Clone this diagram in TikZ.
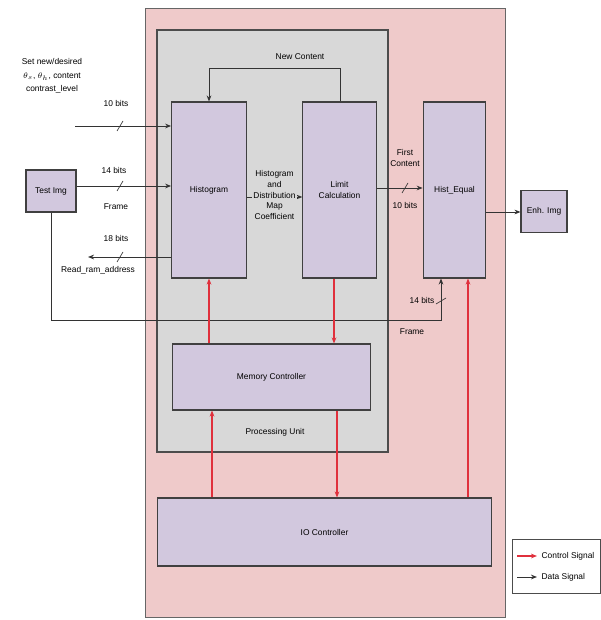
\documentclass[tikz,border=0pt]{standalone}
\usepackage{fontspec}
\setmainfont{Liberation Sans}
\usetikzlibrary{arrows.meta}
\definecolor{outerpink}{HTML}{EFCACA}
\definecolor{innergray}{HTML}{D8D8D8}
\definecolor{lav}{HTML}{D2C8DE}
\definecolor{ctrlred}{HTML}{E0303C}
\tikzset{
  blk/.style={draw=black!75, fill=lav, line width=0.8pt, inner sep=0pt},
  lbl/.style={font=\fontsize{6.3}{8}\selectfont, align=center, inner sep=1pt},
  data/.style={draw=black!80, line width=0.7pt, -{Stealth[length=4.5pt,width=3.5pt]}},
  ctrl/.style={draw=ctrlred, line width=0.8pt, -{Stealth[length=4.5pt,width=3.5pt]}},
  tick/.style={draw=black!80, line width=0.5pt}
}
\begin{document}
\begin{tikzpicture}[x=0.75pt,y=-0.75pt]
\useasboundingbox (0,0) rectangle (600,620);
\fill[white] (0,0) rectangle (600,620);
% containers
\draw[fill=outerpink, draw=black!60, line width=0.7pt] (145,8) rectangle (505,617);
\draw[fill=innergray, draw=black!70, line width=0.8pt] (157,30) rectangle (388,452);
\node[lbl] (pu) at (275,432) {Processing Unit};
% blocks
\node[blk, minimum width=56pt, minimum height=132pt] (hist) at (209,190) {};
\node[lbl] at (hist.center) {Histogram};
\node[blk, minimum width=55pt, minimum height=132pt] (lim) at (339.5,190) {};
\node[lbl] at (lim.center) {Limit\\Calculation};
\node[blk, minimum width=47pt, minimum height=132pt] (heq) at (454.5,190) {};
\node[lbl] at (heq.center) {Hist\_Equal};
\node[blk, minimum width=149pt, minimum height=49.5pt] (mem) at (271.5,377) {};
\node[lbl] at (mem.center) {Memory Controller};
\node[blk, minimum width=251pt, minimum height=51pt] (io) at (324.5,532) {};
\node[lbl] at (io.center) {IO Controller};
\node[blk, minimum width=37.5pt, minimum height=31.5pt] (tin) at (51,191) {};
\node[lbl] at (tin.center) {Test Img};
\node[blk, minimum width=34.5pt, minimum height=32pt] (tout) at (544,211.5) {};
\node[lbl] at (tout.center) {Enh. Img};
% top-left input
\coordinate (cin) at (75,126);
\node[lbl, font=\fontsize{6.3}{10}\selectfont] (settxt) at (52,76) {Set new/desired\\$\theta_s$, $\theta_h$, content\\contrast\_level};
\draw[data] (cin) -- (hist.west |- cin);
\draw[tick] (117,131) -- (123,121);
\node[lbl] at (116,103) {10 bits};
% test img -> histogram
\draw[data] (tin.east |- 0,186) -- (hist.west |- 0,186);
\draw[tick] (117,191) -- (123,181);
\node[lbl] at (114,170) {14 bits};
\node[lbl] at (116,207) {Frame};
% histogram -> read address
\coordinate (raddr) at (88,257);
\draw[data] (hist.west |- raddr) -- (raddr);
\draw[tick] (117,262) -- (123,252);
\node[lbl] at (116,238) {18 bits};
\node[lbl] at (98,270) {Read\_ram\_address};
% test img -> hist_equal (frame)
\draw[data] (tin.south) -- (51,320) -- (441,320) -- (heq.south -| 441,0);
\draw[tick] (436,304) -- (446,298);
\node[lbl] at (422,300) {14 bits};
\node[lbl] at (412,332) {Frame};
% feedback loop
\draw[data] (lim.north -| 340,0) -- (340,68) -- (209,68) -- (hist.north);
\node[lbl] at (300,57) {New Content};
% histogram -> limit
\draw[data] (hist.east |- 0,197) -- (lim.west |- 0,197);
\node[lbl, fill=innergray] at (274.5,195) {Histogram\\and\\Distribution\\Map\\Coefficient};
% limit -> hist_equal
\draw[data] (lim.east |- 0,188) -- (heq.west |- 0,188);
\draw[tick] (402,193) -- (408,183);
\node[lbl] at (405,158) {First\\Content};
\node[lbl] at (405,205) {10 bits};
% hist_equal -> out
\draw[data] (heq.east |- 0,212) -- (tout.west |- 0,212);
% control signals
\draw[ctrl] (mem.north -| 209,0) -- (hist.south);
\draw[ctrl] (lim.south -| 334,0) -- (mem.north -| 334,0);
\draw[ctrl] (io.north -| 212,0) -- (mem.south -| 212,0);
\draw[ctrl] (mem.south -| 337,0) -- (io.north -| 337,0);
\draw[ctrl] (io.north -| 468,0) -- (heq.south -| 468,0);
% legend
\node[draw=black!70, fill=white, line width=0.6pt, minimum width=66pt, minimum height=40pt, inner sep=0pt] (leg) at (556,566.5) {};
\coordinate (l1a) at (517,556);
\coordinate (l1b) at (537,556);
\coordinate (l2a) at (517,577);
\coordinate (l2b) at (537,577);
\draw[ctrl] (l1a) -- (l1b);
\draw[data] (l2a) -- (l2b);
\node[lbl, anchor=west] at (540,556) {Control Signal};
\node[lbl, anchor=west] at (540,577) {Data Signal};
\end{tikzpicture}
\end{document}
